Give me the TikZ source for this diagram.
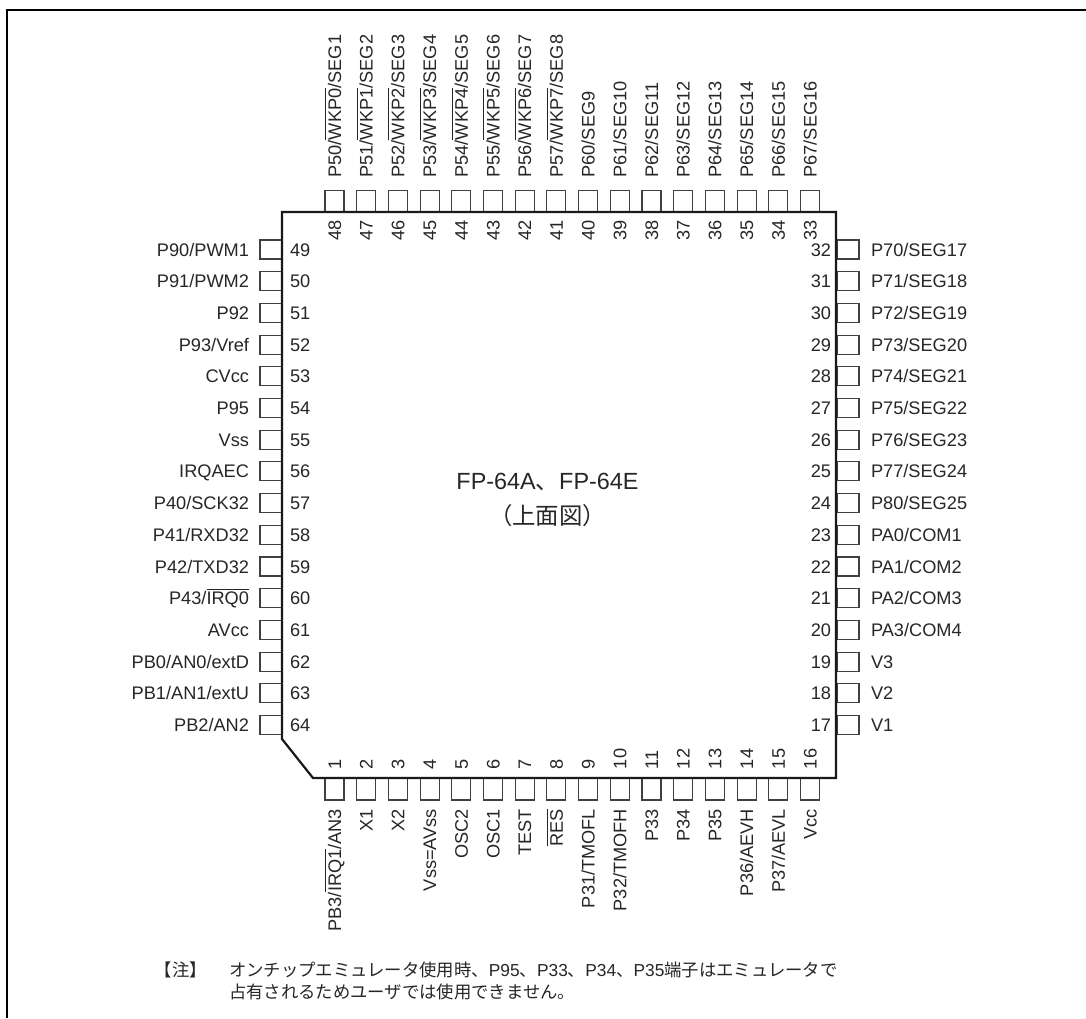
\documentclass[tikz,border=0pt]{standalone}
\usepackage{fontspec}
\setmainfont{Liberation Sans}
\newfontfamily\jpfont{Noto Sans CJK JP}
\usetikzlibrary{positioning}
\newcommand{\barsig}[1]{$\overline{\mbox{\rule{0pt}{14.6pt}#1}}$}
\tikzstyle{hpin} = [ rectangle, draw=black!75, line width=1.1pt, minimum width=22pt, minimum height=19pt, inner sep=0pt, outer sep=0pt ]
\tikzstyle{vpin} = [ rectangle, draw=black!75, line width=1.1pt, minimum width=19pt, minimum height=22pt, inner sep=0pt, outer sep=0pt ]
\tikzstyle{pintext} = [ font=\fontsize{18.2}{20}\selectfont, text=black!85, inner sep=0pt, outer sep=0pt, text height=13pt, text depth=0pt ]
\tikzstyle{titletext} = [ font=\fontsize{23.4}{25}\selectfont, text=black!85, inner sep=0pt, outer sep=0pt, text height=16pt, text depth=5pt ]
\tikzstyle{notetext} = [ font=\fontsize{17.35}{20}\selectfont, text=black!85, inner sep=0pt, outer sep=0pt, text height=14pt, text depth=3pt ]
\tikzstyle{body} = [ draw=black!90, line width=2.2pt, line join=miter ]
\tikzstyle{frame} = [ draw=black, line width=2pt ]

\begin{document}
\begin{tikzpicture}[x=1pt, y=-1pt]
\useasboundingbox (0,0) rectangle (1086,1018);

% Outer frame
\draw [frame] (7,1018) -- (7,10) -- (1086,10);

% Left side, 49 to 64
\foreach \lbl [count=\i from 0] in {P90/PWM1, P91/PWM2, P92, P93/Vref, CVcc, P95, Vss, IRQAEC, P40/SCK32, P41/RXD32, P42/TXD32, P43/\barsig{IRQ0}, AVcc, PB0/AN0/extD, PB1/AN1/extU, PB2/AN2} {
  \pgfmathtruncatemacro{\num}{49+\i}
  \node [hpin] (pin\num) at (271,{249.5+31.7*\i}) {};
  \node [pintext, left=11pt of pin\num] (name\num) {\lbl};
  \node [pintext, right=8pt of pin\num] (num\num) {\num};
}

% Right side, 32 to 17
\foreach \lbl [count=\i from 0] in {P70/SEG17, P71/SEG18, P72/SEG19, P73/SEG20, P74/SEG21, P75/SEG22, P76/SEG23, P77/SEG24, P80/SEG25, PA0/COM1, PA1/COM2, PA2/COM3, PA3/COM4, V3, V2, V1} {
  \pgfmathtruncatemacro{\num}{32-\i}
  \node [hpin] (pin\num) at (848,{249.5+31.7*\i}) {};
  \node [pintext, right=12pt of pin\num] (name\num) {\lbl};
  \node [pintext, left=6pt of pin\num] (num\num) {\num};
}

% Top side, 48 to 33
\foreach \lbl [count=\i from 0] in {P50/\barsig{WKP0}/SEG1, P51/\barsig{WKP1}/SEG2, P52/\barsig{WKP2}/SEG3, P53/\barsig{WKP3}/SEG4, P54/\barsig{WKP4}/SEG5, P55/\barsig{WKP5}/SEG6, P56/\barsig{WKP6}/SEG7, P57/\barsig{WKP7}/SEG8, P60/SEG9, P61/SEG10, P62/SEG11, P63/SEG12, P64/SEG13, P65/SEG14, P66/SEG15, P67/SEG16} {
  \pgfmathtruncatemacro{\num}{48-\i}
  \node [vpin] (pin\num) at ({334.5+31.7*\i},201.5) {};
  \node [pintext, above=13pt of pin\num, rotate=90, anchor=west] (name\num) {\lbl};
  \node [pintext, below=8pt of pin\num, rotate=90, anchor=east] (num\num) {\num};
}

% Bottom side, 1 to 16
\foreach \lbl [count=\num from 1] in {PB3/\barsig{IRQ1}/AN3, X1, X2, Vss=AVss, OSC2, OSC1, TEST, \barsig{RES}, P31/TMOFL, P32/TMOFH, P33, P34, P35, P36/AEVH, P37/AEVL, Vcc} {
  \node [vpin] (pin\num) at ({334.5+31.7*(\num-1)},789) {};
  \node [pintext, below=9pt of pin\num, rotate=90, anchor=east] (name\num) {\lbl};
  \node [pintext, above=9pt of pin\num, rotate=90, anchor=west] (num\num) {\num};
}

% Package outline
\draw [body] (282,212) -- (836,212) -- (836,778) -- (313,778) -- (282,739) -- cycle;

% Package name
\node [titletext] (pkgname) at (547.5,484) {FP-64A{\jpfont 、}FP-64E};
\node [titletext, below=14pt of pkgname, font=\fontsize{23.4}{25}\jpfont] (topview) {（上面図）};

% Note
\node [notetext, anchor=west] (noteone) at (229,971) {{\jpfont オンチップエミュレータ使用時、}P95{\jpfont 、}P33{\jpfont 、}P34{\jpfont 、}P35{\jpfont 端子はエミュレータで}};
\node [notetext, below=5pt of noteone.south west, anchor=north west, font=\fontsize{17.35}{20}\jpfont] (notetwo) {占有されるためユーザでは使用できません。};
\node [notetext, left=22pt of noteone, font=\fontsize{17.35}{20}\jpfont] (notemark) {【注】};
\end{tikzpicture}
\end{document}
